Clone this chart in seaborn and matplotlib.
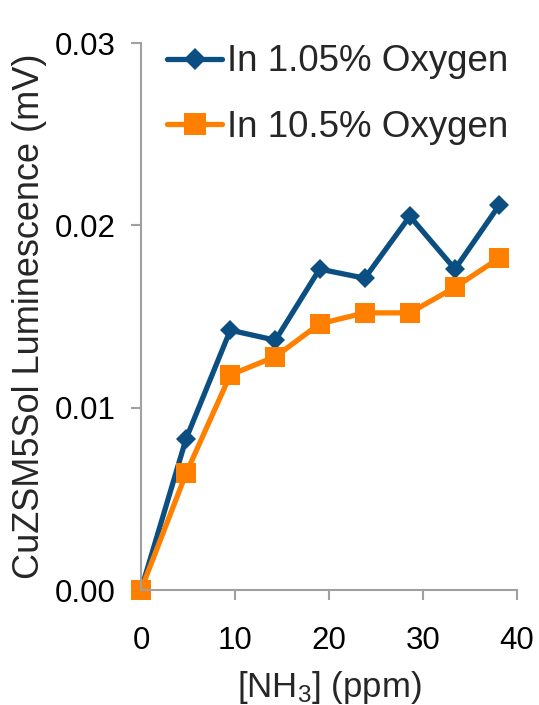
import pandas as pd
import numpy as np
import seaborn as sns
import matplotlib.pyplot as plt

nh3 = [0, 4.8, 9.5, 14.3, 19.0, 23.8, 28.6, 33.4, 38.1]
low_o2 = [0.0, 0.0083, 0.01425, 0.0137, 0.0176, 0.0171, 0.0205, 0.0176, 0.0211]
high_o2 = [0.0, 0.0064, 0.0118, 0.0128, 0.0146, 0.0152, 0.0152, 0.0166, 0.0182]
series = ['In 1.05% Oxygen', 'In 10.5% Oxygen']
colors = ['#0b4f82', '#ff8000']

df = pd.DataFrame({
    'x': nh3 * 2,
    'y': low_o2 + high_o2,
    'series': [series[0]] * len(nh3) + [series[1]] * len(nh3),
})

sns.set_style('white')
plt.rcParams['font.family'] = ['Liberation Sans', 'DejaVu Sans']
plt.rcParams['mathtext.default'] = 'regular'

fig = plt.figure(figsize=(5.39, 7.05), dpi=100)
ax = fig.add_axes([0.2616, 0.1631, 0.6976, 0.7759])

ax = sns.lineplot(data=df, x='x', y='y', hue='series', style='series',
                  palette=dict(zip(series, colors)),
                  markers={series[0]: 'D', series[1]: 's'},
                  dashes=False, linewidth=3.8, ax=ax)
sizes = [10.5, 14.5]
for line, ms in zip(ax.lines, sizes):
    line.set_markersize(ms)
    line.set_markeredgewidth(0)
    line.set_clip_on(False)

ax.set_xlim(0, 40)
ax.set_ylim(0, 0.03)
ax.set_xticks([0, 10, 20, 30, 40])
ax.set_yticks([0.0, 0.01, 0.02, 0.03])
ax.set_yticklabels(['0.00', '0.01', '0.02', '0.03'])
for s in ['top', 'right']:
    ax.spines[s].set_visible(False)
for s in ['left', 'bottom']:
    ax.spines[s].set_color('#a0a0a0')
    ax.spines[s].set_linewidth(1.5)
ax.tick_params(axis='both', direction='out', length=7, width=1.5,
               color='#a0a0a0', labelsize=22.5, labelcolor='black',
               bottom=True, left=True)
ax.tick_params(axis='x', pad=19)
ax.tick_params(axis='y', pad=11)

ax.set_xlabel('[NH$_3$] (ppm)', fontsize=25, labelpad=9)
ax.set_ylabel('CuZSM5Sol Luminescence (mV)', fontsize=26, labelpad=6)

handles, labels = ax.get_legend_handles_labels()
leg = ax.legend(handles, labels, loc='upper left', bbox_to_anchor=(0.31, 0.937),
                bbox_transform=fig.transFigure, frameon=False, fontsize=26.5,
                handlelength=1.5, handletextpad=0.12, labelspacing=0.82,
                borderaxespad=0, borderpad=0)
for h, ms in zip(leg.legend_handles, sizes):
    h.set_linewidth(3.8)
    h.set_markersize(ms * 1.05)
    h.set_markeredgewidth(0)

plt.savefig('out.png', dpi=100)
